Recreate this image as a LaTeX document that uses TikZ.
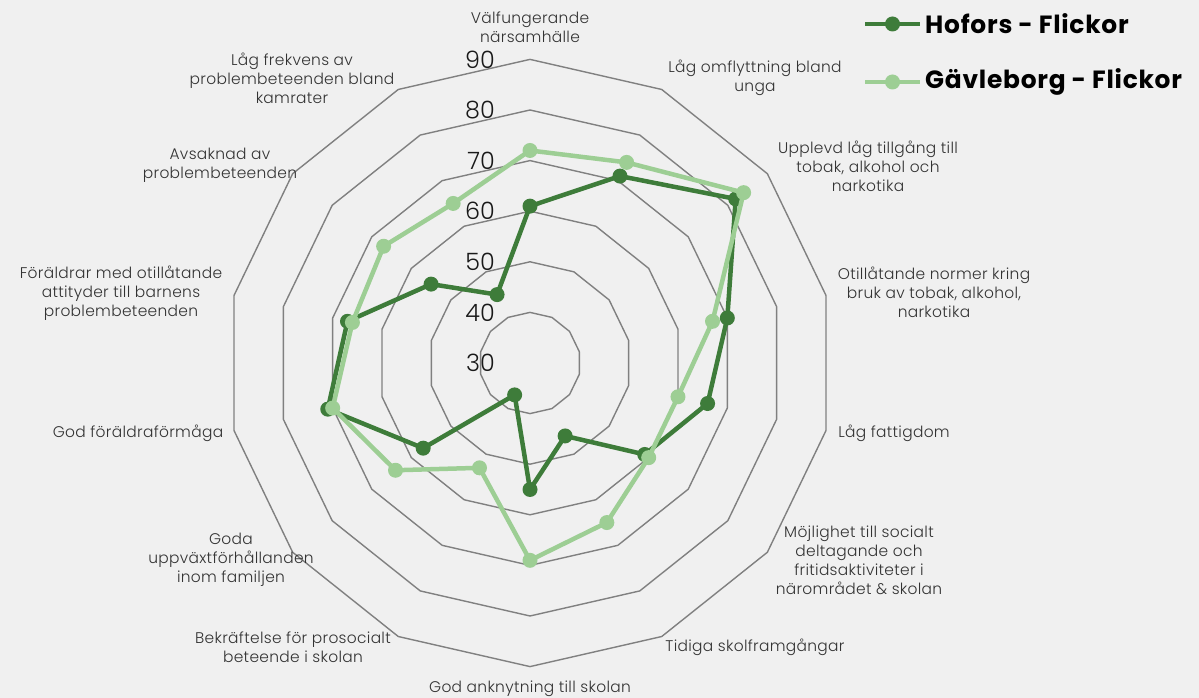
\documentclass[tikz,border=0pt]{standalone}
\usepackage{fontspec}
\setmainfont{Poppins}[UprightFont=*-Light, BoldFont=*-Bold]
\usetikzlibrary{calc}

\definecolor{hoforsgreen}{RGB}{62,124,58}
\definecolor{gavlegreen}{RGB}{157,206,148}
\definecolor{gridgray}{RGB}{128,128,128}
\definecolor{bggray}{RGB}{240,240,240}

% 10 units on the scale = 50.6 px
\newcommand{\radunit}{5.06}

\tikzset{
	ring/.style={draw=gridgray, line width=1.4bp, line join=miter},
	serie/.style={line width=4.5bp, line join=round},
	axislabel/.style={align=center, text=black!80, inner sep=0pt,
		font=\fontsize{15.5}{19}\selectfont\addfontfeature{LetterSpace=2}},
	scalelabel/.style={anchor=east, inner sep=0pt, text=black!90,
		font=\fontsize{24}{24}\selectfont},
	legendtext/.style={anchor=west, inner sep=0pt,
		font=\fontsize{25}{25}\selectfont\bfseries\addfontfeature{LetterSpace=3}}
}

\begin{document}
\begin{tikzpicture}[x=1bp, y=1bp]

	\fill[bggray] (0,0) rectangle (1199,698);
	\useasboundingbox (0,0) rectangle (1199,698);

	\begin{scope}[shift={(530,335)}]
	% rings 40 ... 90
	\foreach \v in {40,50,...,90}
		\draw[ring] (90:{(\v-30)*\radunit})
			\foreach \k in {1,...,13}{ -- ({90-\k*360/14}:{(\v-30)*\radunit}) } -- cycle;

	% scale
	\foreach \v in {30,40,...,90}
		\node[scalelabel] (s\v) at (-35,{(\v-30)*\radunit}) {\v};

	% data points
	\foreach \v [count=\k from 0] in {61,71,82,70,66,59,46,55,37,57,71,67,55,45}
		\coordinate (h\k) at ({90-\k*360/14}:{(\v-30)*\radunit});
	\foreach \v [count=\k from 0] in {72,74,84,67,60,60,65,69,53,64,70,66,67,65}
		\coordinate (g\k) at ({90-\k*360/14}:{(\v-30)*\radunit});

	\draw[serie, hoforsgreen] (h0) \foreach \k in {1,...,13}{ -- (h\k) } -- cycle;
	\foreach \k in {0,...,13}
		\fill[hoforsgreen] (h\k) circle (7.5bp);

	\draw[serie, gavlegreen] (g0) \foreach \k in {1,...,13}{ -- (g\k) } -- cycle;
	\foreach \k in {0,...,13}
		\fill[gavlegreen] (g\k) circle (7.5bp);
	\end{scope}

	% axis labels
	\node[axislabel] (l0) at (530,671) {Välfungerande\\närsamhälle};
	\node[axislabel] (l1) at (755,620) {Låg omflyttning bland\\unga};
	\node[axislabel] (l2) at (868,532) {Upplevd låg tillgång till\\tobak, alkohol och\\narkotika};
	\node[axislabel] (l3) at (934,406) {Otillåtande normer kring\\bruk av tobak, alkohol,\\narkotika};
	\node[axislabel] (l4) at (894,265) {Låg fattigdom};
	\node[axislabel] (l5) at (859,138) {Möjlighet till socialt\\deltagande och\\fritidsaktiviteter i\\närområdet \& skolan};
	\node[axislabel] (l6) at (755,51) {Tidiga skolframgångar};
	\node[axislabel] (l7) at (530,9) {God anknytning till skolan};
	\node[axislabel] (l8) at (293,51) {Bekräftelse för prosocialt\\beteende i skolan};
	\node[axislabel] (l9) at (231,138) {Goda\\uppväxtförhållanden\\inom familjen};
	\node[axislabel] (l10) at (138,265) {God föräldraförmåga};
	\node[axislabel] (l11) at (121,405) {Föräldrar med otillåtande\\attityder till barnens\\problembeteenden};
	\node[axislabel] (l12) at (220,533) {Avsaknad av\\problembeteenden};
	\node[axislabel] (l13) at (292,620) {Låg frekvens av\\problembeteenden bland\\kamrater};

	% legend
	\coordinate (hofa) at (865,674);
	\coordinate (hofb) at (920,674);
	\draw[serie, hoforsgreen] (hofa) -- (hofb);
	\fill[hoforsgreen] ($(hofa)!0.5!(hofb)$) circle (7.5bp);
	\node[legendtext] (hof) at (925,674) {Hofors - Flickor};

	\coordinate (gava) at (865,616);
	\coordinate (gavb) at (920,616);
	\draw[serie, gavlegreen] (gava) -- (gavb);
	\fill[gavlegreen] ($(gava)!0.5!(gavb)$) circle (7.5bp);
	\node[legendtext] (gav) at (925,616) {Gävleborg - Flickor};

\end{tikzpicture}
\end{document}
